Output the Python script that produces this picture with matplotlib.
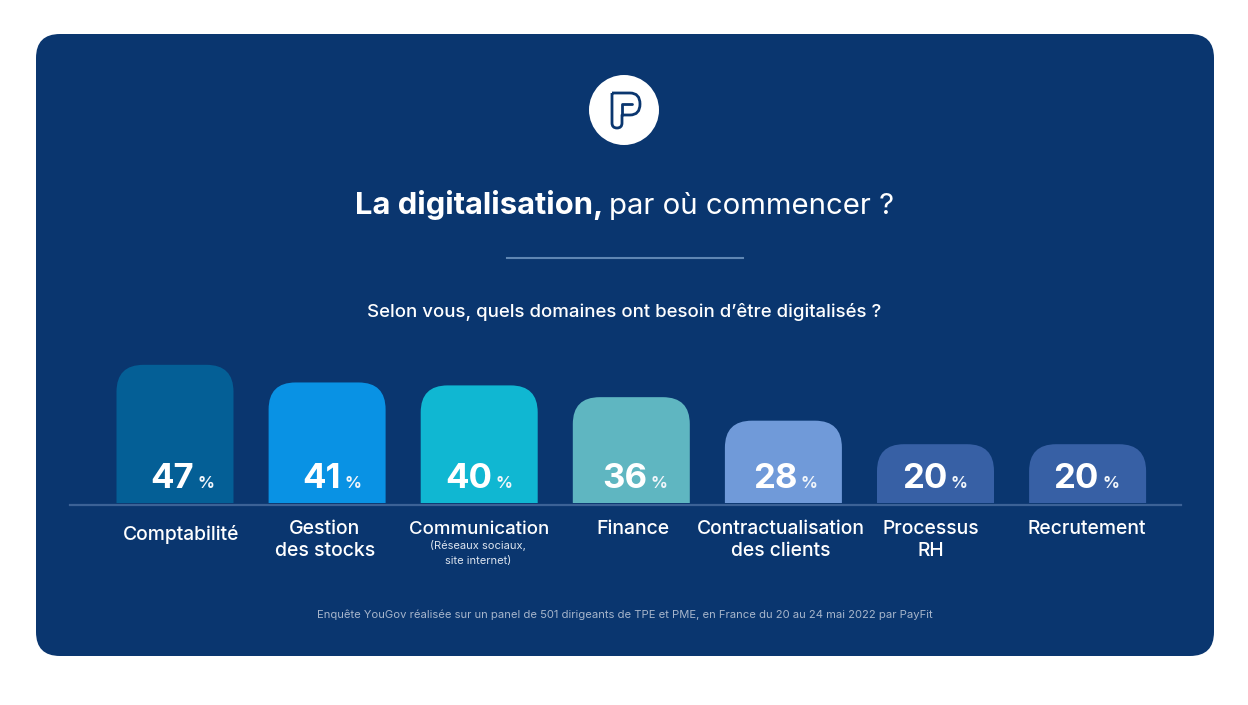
"""
La digitalisation, par ou commencer ? - bar chart on a navy card
"""
import matplotlib
matplotlib.use('Agg')
import matplotlib.pyplot as plt
from matplotlib.patches import FancyBboxPatch, Circle, PathPatch
from matplotlib.path import Path

plt.rcParams['font.family'] = ['Inter', 'DejaVu Sans']

# data
categories = ['Comptabilité', 'Gestion\ndes stocks', 'Communication', 'Finance',
              'Contractualisation\ndes clients', 'Processus\nRH', 'Recrutement']
values = [47, 41, 40, 36, 28, 20, 20]
bar_colors = ['#045F96', '#0992E4', '#10B7D2', '#5FB6C1', '#709AD9', '#3760A5', '#3760A5']

title_bold = 'La digitalisation,'
title_regular = 'par où commencer ?'
subtitle = 'Selon vous, quels domaines ont besoin d’être digitalisés ?'
sub_note = '(Réseaux sociaux,\nsite internet)'
footer = 'Enquête YouGov réalisée sur un panel de 501 dirigeants de TPE et PME, en France du 20 au 24 mai 2022 par PayFit'

# layout (pixels)
W, H = 1248, 705
NAVY = '#0A366F'
BASE_Y = 503
PX_PER_PCT = 2.94
BAR_STEP = 152.1
BAR_X0 = 175
BAR_W = 117 / BAR_STEP
RADIUS = 27
label_x = [181, 325, 479, 633, 781, 931, 1087]
label_y = [534, 540, 529, 529, 540, 540, 529]
label_size = [13.9, 14, 13.4, 14, 13.9, 13.9, 13.9]
num_right = [19, 14, 13, 16, 14, 12, 11]

fig = plt.figure(figsize=(W / 100, H / 100), dpi=100, facecolor='white')

# full page axes in pixel coordinates for the card and the texts
bg = fig.add_axes([0, 0, 1, 1])
bg.set_xlim(0, W)
bg.set_ylim(H, 0)
bg.axis('off')

bg.add_patch(FancyBboxPatch((36 + 24, 34 + 24), 1178 - 48, 622 - 48,
                            boxstyle='round,pad=24,rounding_size=24',
                            fc=NAVY, ec='none'))

# logo
bg.add_patch(Circle((624, 110), 35, fc='white', ec='none'))
P = Path.MOVETO
L = Path.LINETO
C = Path.CURVE3
outline = Path([(612, 93), (630, 93), (640, 93), (640, 104), (640, 115), (630, 115),
                (622, 115), (622, 123), (622, 128), (617, 128), (612, 128), (612, 123), (612, 93)],
               [P, L, C, C, C, C, L, L, C, C, C, C, L])
bg.add_patch(PathPatch(outline, fc='white', ec=NAVY, lw=2.0, joinstyle='round'))
bg.plot([622, 622, 632], [115, 104, 104], color=NAVY, lw=2.0, solid_capstyle='round')

# title block
bg.text(355, 214, title_bold, color='white', fontsize=22.3, fontweight='bold', ha='left', va='baseline')
bg.text(609, 214, title_regular, color='white', fontsize=21.1, ha='left', va='baseline')
bg.plot([507, 743], [258, 258], color='#5F86B3', lw=1.5)
bg.text(624.5, 312, subtitle, color='white', fontsize=13.4, fontweight=500, ha='center', va='center')

# baseline
bg.plot([70, 1181], [505, 505], color='#3C6296', lw=1.6, zorder=5)

# bars
ax = fig.add_axes([70 / W, 1 - BASE_Y / H, 1111 / W, 147 / H])
ax.set_xlim((70 - BAR_X0) / BAR_STEP, (1181 - BAR_X0) / BAR_STEP)
ax.set_ylim(0, 147 / PX_PER_PCT)
ax.axis('off')

rx = RADIUS / BAR_STEP
ry = RADIUS / PX_PER_PCT
for i, (val, col) in enumerate(zip(values, bar_colors)):
    x0, x1 = i - BAR_W / 2, i + BAR_W / 2
    path = Path([(x0, 0), (x0, val - ry), (x0, val), (x0 + rx, val), (x1 - rx, val),
                 (x1, val), (x1, val - ry), (x1, 0), (x0, 0)],
                [P, L, C, C, L, C, C, L, Path.CLOSEPOLY])
    ax.add_patch(PathPatch(path, fc=col, ec='none'))
    # value and percent sign, offsets in points
    ax.annotate(str(val), (i, 0), xytext=(num_right[i] * 0.72, 15 * 0.72),
                textcoords='offset points', color='white', fontsize=25,
                fontweight='bold', ha='right', va='baseline')
    ax.annotate('%', (i, 0), xytext=((num_right[i] + 3.5) * 0.72, 15 * 0.72),
                textcoords='offset points', color='#F0F5FA', fontsize=12,
                fontweight='bold', ha='left', va='baseline')

# category labels
for name, lx, ly, fs in zip(categories, label_x, label_y, label_size):
    bg.text(lx, ly, name, color='white', fontsize=fs, fontweight=500, ha='center', va='center', linespacing=1.25)
bg.text(478, 553, sub_note, color='#DDE5EF', fontsize=8, ha='center', va='center', linespacing=1.6)

# footer
bg.text(625, 615, footer, color='#A6B5CB', fontsize=8.1, ha='center', va='center')

fig.savefig('out.png', dpi=100)
